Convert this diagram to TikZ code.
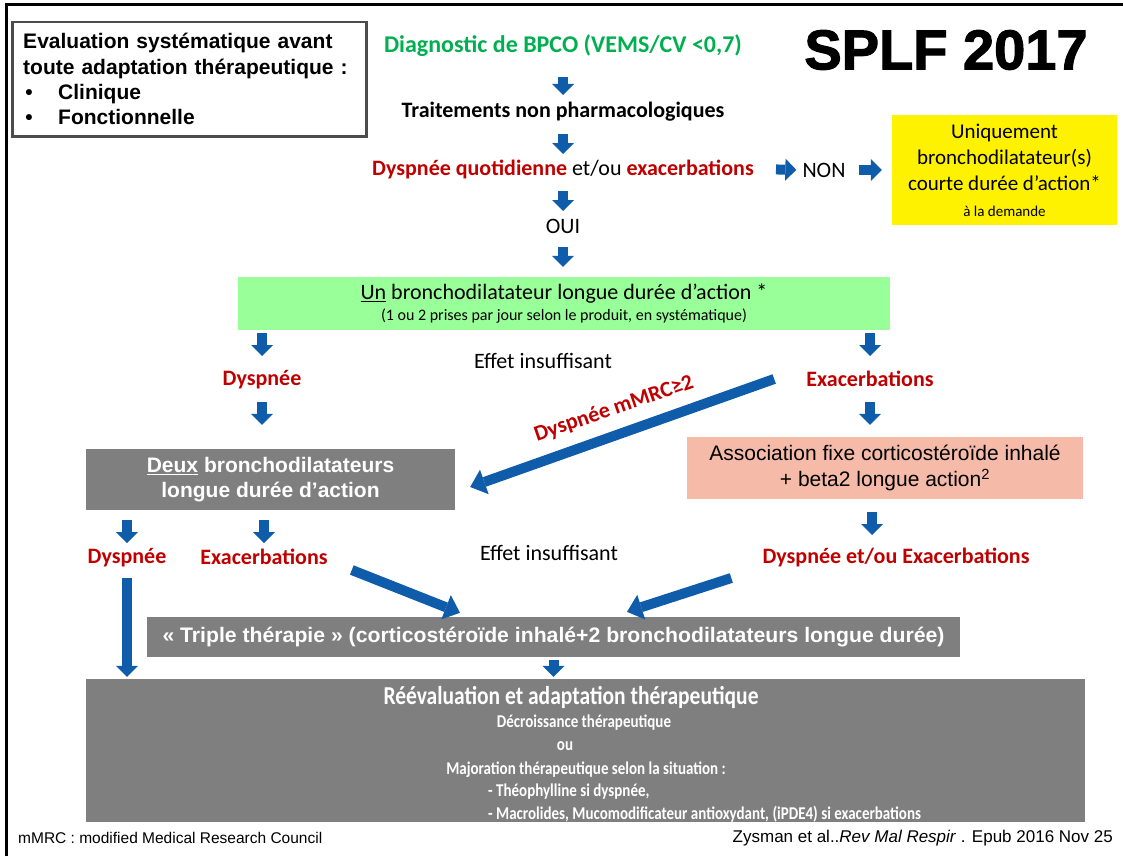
\documentclass[tikz,border=0pt]{standalone}
\usepackage{fontspec}
\setmainfont{Carlito}
\newfontfamily\arial{Liberation Sans}
\newfontfamily\splffont[FakeBold=2]{Liberation Sans}
\usetikzlibrary{arrows.meta}
\definecolor{arrblue}{RGB}{15,92,170}
\definecolor{dred}{RGB}{192,0,0}
\definecolor{dgreen}{RGB}{0,176,80}
\definecolor{boxgray}{RGB}{127,127,127}
\definecolor{lgreen}{RGB}{153,255,153}
\definecolor{salmon}{RGB}{245,186,168}
\newcommand{\fs}[2]{\fontsize{#1}{#2}\selectfont}
\newcommand{\tall}[1]{\scalebox{1}[1.2]{#1}}

\begin{document}
\begin{tikzpicture}[x=1pt,y=-1pt,
	txt/.style={inner sep=0pt,font=\fs{22}{26}},
	redtxt/.style={inner sep=0pt,font=\bfseries\fs{22}{26},text=dred},
	smalltxt/.style={inner sep=0pt,text=white,font=\bfseries\fs{15}{18}},
	blk/.style={draw=arrblue,line width=10pt,-{Triangle[width=22pt,length=11pt,line width=0pt]}},
	blkd/.style={draw=arrblue,line width=10pt,-{Triangle[width=26pt,length=15pt,line width=0pt]}},
	graybox/.style={fill=boxgray,text=white,inner sep=0pt,align=center}]
					\useasboundingbox (0,0) rectangle (1123,856);
					\draw [line width=3pt] (6,856) -- (6,5) -- (1123,5);

					\node [draw=black!70, line width=2.5pt, anchor=north west, inner xsep=7pt, inner ysep=0pt, text width=340pt, minimum height=114pt, align=left, font=\arial\bfseries\fs{21}{25.3}] (evalbox) at (11,21) {\hspace*{4pt}Evaluation systématique avant\\\hspace*{4pt}toute adaptation thérapeutique~:\\\hspace*{6pt}\makebox[33pt][l]{•}Clinique\\\hspace*{6pt}\makebox[33pt][l]{•}Fonctionnelle};
					\node [inner sep=0pt, font=\splffont\bfseries\fs{56}{60}] (splf) at (946,50) {SPLF 2017};

					\node [txt, font=\bfseries\fs{24}{28}, text=dgreen] (diag) at (563,46) {Diagnostic de BPCO (VEMS/CV <0,7)};
					\node [txt, font=\bfseries\fs{22}{26}] (trait) at (563,112) {Traitements non pharmacologiques};
					\node [txt] (dysq) at (563,169) {{\bfseries\color{dred}Dyspnée quotidienne} et/ou {\bfseries\color{dred}exacerbations}};
					\node [txt] (oui) at (563,226) {OUI};
					\node [txt] (non) at (824,170) {NON};
					\node [fill=yellow, minimum width=225pt, minimum height=110pt, inner sep=0pt, align=center, font=\fs{21}{26}] (unique) at (1004.5,170) {Uniquement\\bronchodilatateur(s)\\courte durée d’action*\\{\fs{15}{20}à la demande}};

					\node [fill=lgreen, minimum width=652pt, minimum height=53pt, inner sep=0pt, align=center, font=\fs{22}{21}] (green) at (564,303.5) {\underline{Un} bronchodilatateur longue durée d’action *\\{\fs{16}{21}(1 ou 2 prises par jour selon le produit, en systématique)}};

					\node [txt] (eff1) at (543,361) {Effet insuffisant};
					\node [redtxt] (dysp1) at (262,380) {Dyspnée};
					\node [redtxt] (exac1) at (870,379) {Exacerbations};

					\node [graybox, minimum width=369pt, minimum height=61pt, font=\arial\bfseries\fs{21}{25}] (deux) at (270.5,479.5) {\underline{Deux} bronchodilatateurs\\longue durée d’action};
					\node [fill=salmon, minimum width=396pt, minimum height=62pt, inner sep=0pt, align=center, font=\arial\fs{21}{26}] (assoc) at (885,468) {Association fixe corticostéroïde inhalé\\+ beta2 longue action\textsuperscript{2}};

					\node [redtxt] (dysp2) at (127,558) {Dyspnée};
					\node [redtxt] (exac2) at (264,557) {Exacerbations};
					\node [txt] (eff2) at (549,553) {Effet insuffisant};
					\node [redtxt] (dyo) at (896,557) {Dyspnée et/ou Exacerbations};

					\node [graybox, minimum width=813pt, minimum height=40pt, font=\arial\bfseries\fs{21}{25}] (triple) at (553.5,637) {\scalebox{1.01}[1]{« Triple thérapie » (corticostéroïde inhalé+2 bronchodilatateurs longue durée)}};

					\node [graybox, minimum width=999pt, minimum height=143pt] (reeval) at (585.5,750.5) {};
					\node [txt, text=white, font=\bfseries\fs{21.5}{25}] (reti) at (571,697) {\tall{Réévaluation et adaptation thérapeutique}};
					\node [smalltxt] (decr) at (584,723) {\tall{Décroissance thérapeutique}};
					\node [smalltxt] (ou) at (565,746) {\tall{ou}};
					\node [smalltxt] (major) at (586,770) {\tall{Majoration thérapeutique selon la situation :}};
					\node [smalltxt, anchor=west] (theo) at (488,792) {\tall{- Théophylline si dyspnée,}};
					\node [smalltxt, anchor=west] (macro) at (488,814) {\tall{- Macrolides, Mucomodificateur antioxydant, (iPDE4) si exacerbations}};

					\node [txt, font=\arial\fs{15.5}{18}, anchor=west] (mmrc) at (18,838) {mMRC : modified Medical Research Council};
					\node [txt, font=\arial\fs{17}{19}, anchor=east] (ref) at (1113,838) {Zysman et al..\textit{Rev Mal Respir} . Epub 2016 Nov 25};

					\draw [blk, shorten <=31pt, shorten >=17pt] (diag.center) -- (trait.center);
					\draw [blk, shorten <=22pt, shorten >=15pt] (trait.center) -- (dysq.center);
					\draw [blk, shorten <=22pt, shorten >=15pt] (dysq.center) -- (oui.center);
					\draw [blk, shorten <=21pt, shorten >=10pt] (oui.center) -- (oui.center |- green.north);
					\draw [blk, shorten <=22pt, shorten >=6pt] (dysq.east) -- (non.west);
					\draw [blk, shorten <=13pt, shorten >=10pt] (non.east) -- (unique.west);

					\draw [blk, shorten <=3pt, shorten >=24pt] (green.south -| dysp1) -- (dysp1.center);
					\draw [blk, shorten <=3pt, shorten >=23pt] (green.south -| exac1) -- (exac1.center);
					\draw [blk, shorten <=22pt, shorten >=24pt] (dysp1.center) -- (dysp1.center |- deux.north);
					\draw [blk, shorten <=23pt, shorten >=12pt] (exac1.center) -- (exac1.center |- assoc.north);

					\draw [blkd] ([xshift=-32pt]exac1.west) -- ([xshift=15pt,yshift=-7.5pt]deux.east);
					\node [redtxt, rotate=19] (mmrclab) at (614,409) {Dyspnée mMRC≥2};

					\draw [blk, shorten <=10pt, shorten >=15pt] (deux.south -| dysp2) -- (dysp2.center);
					\draw [blk, shorten <=10pt, shorten >=14pt] (deux.south -| exac2) -- (exac2.center);
					\draw [blk, shorten <=13pt, shorten >=22pt] ([xshift=-13pt]assoc.south) -- ([xshift=-13pt]assoc.south |- dyo.center);

					\draw [blk, shorten <=20pt, shorten >=2pt] (dysp2.center) -- (dysp2.center |- reeval.north);
					\draw [blkd] ([xshift=24pt,yshift=-13pt]exac2.east) -- ([xshift=-93.5pt,yshift=4pt]triple.north);
					\draw [blkd] ([xshift=-31pt,yshift=-21pt]dyo.west) -- ([xshift=73.5pt,yshift=5pt]triple.north);
					\draw [blk, shorten <=3pt, shorten >=2pt] (triple.south) -- (triple.south |- reeval.north);
				\end{tikzpicture}
\end{document}
